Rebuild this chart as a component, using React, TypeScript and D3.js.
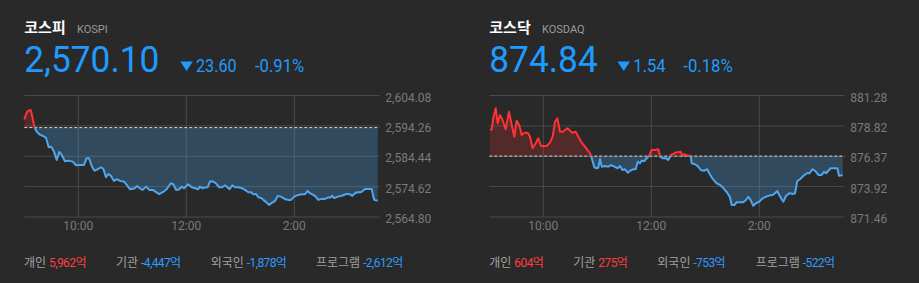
import React from 'react';
import * as d3 from 'd3';

// ---------- DATA ----------
// minutes since 09:00
const kospiMinutes = [0, 2.7, 4.4, 7.1, 8.9, 10.8, 11.9, 13.8, 16.7, 20.4, 24.1, 27.1, 30.0, 33.0, 36.0, 38.9, 41.6, 45.2, 48.9, 53.8, 57.4, 61.9, 66.3, 69.3, 71.9, 74.9, 77.8, 81.6, 85.2, 87.8, 90.8, 93.3, 96.3, 99.7, 102.7, 106.3, 110.8, 113.8, 117.4, 121.9, 125.6, 128.6, 131.6, 135.2, 138.9, 142.7, 146.0, 150.0, 153.8, 158.2, 162.7, 165.6, 168.6, 172.2, 174.9, 177.4, 182.2, 186.0, 189.7, 193.3, 195.2, 197.8, 200.8, 203.8, 206.3, 210.0, 212.7, 216.3, 220.0, 223.0, 226.0, 228.2, 231.1, 234.1, 237.8, 241.6, 245.2, 248.9, 251.9, 254.4, 257.4, 260.0, 263.8, 265.6, 269.3, 271.9, 275.6, 278.6, 281.6, 285.2, 289.7, 293.3, 296.3, 300.0, 304.4, 308.2, 311.9, 314.9, 317.4, 321.1, 323.8, 326.7, 330.4, 334.1, 337.1, 339.7, 342.2, 344.4, 348.2, 351.9, 354.4, 358.2, 361.9, 364.4, 367.4, 370.4, 374.1, 378.6, 382.2, 386.0, 387.8, 388.9, 391.6, 392.7];
const kospiValues = [2596.39, 2598.52, 2599.17, 2599.40, 2597.23, 2594.55, 2593.49, 2592.39, 2591.55, 2591.00, 2590.45, 2587.35, 2587.54, 2585.93, 2583.25, 2585.83, 2584.86, 2582.83, 2583.02, 2582.70, 2581.53, 2581.63, 2581.63, 2583.80, 2583.80, 2581.31, 2579.79, 2580.24, 2580.89, 2580.34, 2577.66, 2578.72, 2578.08, 2576.46, 2577.01, 2576.46, 2576.24, 2575.17, 2573.78, 2573.98, 2574.85, 2573.98, 2573.56, 2574.62, 2573.56, 2573.56, 2572.91, 2572.17, 2572.81, 2573.78, 2575.72, 2575.40, 2573.56, 2573.78, 2574.62, 2574.11, 2575.40, 2574.43, 2574.11, 2573.78, 2574.62, 2574.11, 2574.30, 2574.43, 2576.24, 2576.24, 2575.72, 2574.43, 2574.43, 2575.07, 2574.30, 2573.78, 2575.07, 2574.43, 2574.43, 2574.11, 2573.56, 2572.81, 2572.81, 2572.17, 2572.27, 2571.20, 2570.88, 2570.33, 2569.45, 2568.71, 2569.45, 2570.00, 2571.62, 2571.39, 2570.55, 2570.33, 2570.33, 2571.39, 2571.94, 2572.17, 2572.17, 2573.23, 2572.49, 2571.94, 2571.39, 2570.33, 2570.65, 2570.65, 2571.07, 2571.07, 2571.62, 2570.88, 2571.39, 2571.62, 2571.84, 2572.26, 2572.17, 2571.62, 2572.49, 2572.81, 2572.81, 2573.88, 2573.88, 2573.88, 2571.39, 2570.33, 2570.10, 2570.10];
const kospiTicks = [2564.80, 2574.62, 2584.44, 2594.26, 2604.08];
const kospiTickLabels = ['2,564.80', '2,574.62', '2,584.44', '2,594.26', '2,604.08'];
const kospiPrevClose = 2593.70;

const kosdaqMinutes = [0.8, 2.7, 4.4, 7.1, 9.3, 11.9, 14.4, 18.2, 21.9, 24.9, 27.8, 30.4, 33.3, 36.0, 38.9, 42.7, 45.2, 48.2, 51.6, 54.4, 57.4, 60.0, 63.8, 67.4, 70.4, 73.0, 75.6, 78.6, 81.6, 84.1, 87.1, 89.7, 92.2, 96.0, 98.9, 102.7, 106.3, 110.0, 113.0, 114.4, 116.7, 119.3, 121.1, 123.0, 124.9, 128.6, 132.2, 135.2, 138.9, 142.7, 145.2, 147.8, 150.8, 153.8, 156.7, 160.0, 162.7, 164.9, 167.4, 169.3, 172.2, 174.9, 177.4, 180.4, 184.1, 187.8, 190.0, 193.0, 196.3, 198.9, 201.6, 204.4, 207.4, 210.0, 212.7, 214.4, 216.3, 218.6, 221.1, 223.8, 224.9, 228.6, 232.2, 234.9, 238.6, 242.2, 244.4, 247.1, 250.0, 252.7, 256.3, 259.3, 261.9, 264.4, 267.4, 269.3, 272.2, 274.9, 278.6, 282.2, 285.2, 287.8, 290.4, 293.3, 296.3, 300.0, 303.8, 307.4, 311.9, 314.9, 317.4, 320.0, 322.2, 324.9, 326.7, 329.7, 333.3, 337.8, 339.7, 342.2, 345.2, 348.9, 352.7, 355.6, 359.3, 361.9, 365.6, 369.3, 371.9, 374.1, 376.7, 379.3, 382.2, 386.7, 388.6, 391.6, 392.7];
const kosdaqValues = [878.49, 878.55, 879.44, 880.25, 879.03, 879.70, 879.36, 878.55, 879.97, 878.90, 877.95, 879.24, 878.90, 878.09, 878.27, 878.27, 877.95, 877.01, 877.42, 877.82, 877.20, 877.20, 877.20, 877.47, 877.95, 879.16, 879.44, 878.35, 878.35, 878.49, 878.63, 878.44, 878.27, 878.35, 877.95, 877.47, 877.14, 876.79, 876.47, 876.07, 875.48, 875.40, 875.44, 876.15, 875.53, 875.58, 875.53, 875.66, 875.53, 875.40, 875.58, 875.26, 875.32, 875.04, 875.20, 875.32, 875.32, 875.93, 875.80, 876.01, 875.99, 876.20, 876.39, 876.88, 876.88, 876.93, 876.33, 876.20, 876.20, 876.07, 876.47, 876.55, 876.69, 876.69, 876.74, 876.39, 876.53, 876.47, 876.41, 876.41, 875.80, 875.72, 875.53, 875.26, 875.20, 875.32, 874.99, 874.67, 874.39, 874.18, 874.05, 873.86, 873.64, 873.42, 873.05, 872.43, 872.43, 872.65, 872.65, 872.65, 872.83, 873.10, 872.83, 872.37, 872.57, 872.70, 872.97, 873.10, 873.21, 873.24, 873.38, 873.56, 873.24, 872.89, 872.70, 873.16, 873.38, 873.32, 873.38, 874.37, 874.51, 874.77, 874.99, 874.99, 875.32, 875.20, 874.86, 874.86, 875.12, 874.99, 875.20, 875.40, 875.40, 875.40, 874.80, 874.84, 874.84];
const kosdaqTicks = [871.46, 873.92, 876.37, 878.82, 881.28];
const kosdaqTickLabels = ['871.46', '873.92', '876.37', '878.82', '881.28'];
const kosdaqPrevClose = 876.38;

const timeTicks = [60, 180, 300];
const timeTickLabels = ['10:00', '12:00', '2:00'];

const investorLabels = ['개인', '기관', '외국인', '프로그램'];
const kospiFlows = ['5,962억', '-4,447억', '-1,878억', '-2,612억'];
const kosdaqFlows = ['604억', '275억', '-753억', '-522억'];

// ---------- STYLE ----------
const BG = '#292929';
const GRID = '#4a4a4a';
const UP = '#ff3333';
const DOWN = '#4ea6f0';
const BLUE_TEXT = '#1f9bff';
const FONT = "Roboto, 'Noto Sans CJK KR', sans-serif";

interface PanelProps {
  id: string;
  x0: number;
  title: string;
  code: string;
  price: string;
  change: string;
  pct: string;
  minutes: number[];
  values: number[];
  ticks: number[];
  tickLabels: string[];
  prevClose: number;
  flows: string[];
  hdr: { priceLen: number; triX: number; chgX: number; chgLen: number; pctX: number; pctLen: number };
  flowX: number[];
}

function Panel(p: PanelProps) {
  const top = 95.5;
  const bottom = 217;
  const w = 353.7;
  const x = d3.scaleLinear().domain([0, 393]).range([p.x0, p.x0 + w]);
  const y = d3.scaleLinear().domain([p.ticks[0], p.ticks[p.ticks.length - 1]]).range([bottom, top]);
  const data = p.minutes.map((m, i) => ({ m, v: p.values[i] }));
  const yBase = y(p.prevClose);
  const line = d3.line<{ m: number; v: number }>().x(d => x(d.m)).y(d => y(d.v));
  const area = d3.area<{ m: number; v: number }>().x(d => x(d.m)).y0(yBase).y1(d => y(d.v));
  const gridRight = p.x0 + w + 1.5;
  const t = p.hdr;
  return (
    <g>
      <defs>
        <clipPath id={p.id + '-up'}>
          <rect x={p.x0 - 5} y={0} width={w + 10} height={yBase} />
        </clipPath>
        <clipPath id={p.id + '-dn'}>
          <rect x={p.x0 - 5} y={yBase} width={w + 10} height={300 - yBase} />
        </clipPath>
      </defs>
      {/* header */}
      <text x={p.x0} y={33} fill="#ffffff" fontSize={15} fontWeight={700} fontFamily={FONT}>{p.title}</text>
      <text x={p.x0 + 52.7} y={33} fill="#9a9a9a" fontSize={11} fontFamily={FONT}>{p.code}</text>
      <text x={p.x0} y={72} fill={BLUE_TEXT} fontSize={36} fontFamily={FONT} textLength={t.priceLen} lengthAdjust="spacingAndGlyphs">{p.price}</text>
      <path d={`M${t.triX},61.5 L${t.triX + 12.5},61.5 L${t.triX + 6.25},71 Z`} fill={BLUE_TEXT} />
      <text x={t.chgX} y={72.3} fill={BLUE_TEXT} fontSize={19} fontFamily={FONT} textLength={t.chgLen} lengthAdjust="spacingAndGlyphs">{p.change}</text>
      <text x={t.pctX} y={72.3} fill={BLUE_TEXT} fontSize={19} fontFamily={FONT} textLength={t.pctLen} lengthAdjust="spacingAndGlyphs">{p.pct}</text>

      {/* grid */}
      {p.ticks.map((v, i) => (
        <line key={'h' + i} x1={p.x0} x2={gridRight} y1={y(v)} y2={y(v)} stroke={GRID} strokeWidth={1} />
      ))}
      {timeTicks.map((m, i) => (
        <line key={'v' + i} x1={x(m)} x2={x(m)} y1={top} y2={bottom} stroke={GRID} strokeWidth={1} />
      ))}

      {/* fills */}
      <path d={area(data) || ''} fill={UP} fillOpacity={0.2} clipPath={`url(#${p.id}-up)`} />
      <path d={area(data) || ''} fill={DOWN} fillOpacity={0.27} clipPath={`url(#${p.id}-dn)`} />

      {/* baseline */}
      <line x1={p.x0} x2={gridRight} y1={yBase} y2={yBase} stroke="#d8d8d8" strokeWidth={1} strokeDasharray="3,2" />

      {/* lines */}
      <path d={line(data) || ''} fill="none" stroke={UP} strokeWidth={2} strokeLinejoin="round" clipPath={`url(#${p.id}-up)`} />
      <path d={line(data) || ''} fill="none" stroke={DOWN} strokeWidth={2} strokeLinejoin="round" clipPath={`url(#${p.id}-dn)`} />

      {/* y labels */}
      {p.ticks.map((v, i) => (
        <text key={'yl' + i} x={p.x0 + 361} y={y(v) + 3} dominantBaseline="middle" fill="#7a7a7a" fontSize={12} fontFamily={FONT}>{p.tickLabels[i]}</text>
      ))}
      {/* x labels */}
      {timeTicks.map((m, i) => (
        <text key={'xl' + i} x={x(m)} y={230} textAnchor="middle" fill="#7a7a7a" fontSize={12} fontFamily={FONT}>{timeTickLabels[i]}</text>
      ))}

      {/* investor flows */}
      {investorLabels.map((lab, i) => (
        <text key={'f' + i} x={p.flowX[i]} y={266.5} fontSize={12} fontFamily={FONT} fill="#a0a0a0">
          {lab + ' '}
          <tspan fill={p.flows[i].startsWith('-') ? '#2f9bff' : '#ff3f3f'} letterSpacing={-0.6}>{p.flows[i]}</tspan>
        </text>
      ))}
    </g>
  );
}

export default function App() {
  return (
    <svg width={919} height={283} style={{ position: 'absolute', left: 0, top: 0, display: 'block' }}>
      <rect x={0} y={0} width={919} height={283} fill={BG} />
      <Panel
        id="kospi" x0={24.3} title="코스피" code="KOSPI" price="2,570.10" change="23.60" pct="-0.91%"
        minutes={kospiMinutes} values={kospiValues} ticks={kospiTicks} tickLabels={kospiTickLabels}
        prevClose={kospiPrevClose} flows={kospiFlows}
        hdr={{ priceLen: 135, triX: 180.3, chgX: 196, chgLen: 40.7, pctX: 255, pctLen: 49.3 }}
        flowX={[24, 116, 210.7, 316]}
      />
      <Panel
        id="kosdaq" x0={489.3} title="코스닥" code="KOSDAQ" price="874.84" change="1.54" pct="-0.18%"
        minutes={kosdaqMinutes} values={kosdaqValues} ticks={kosdaqTicks} tickLabels={kosdaqTickLabels}
        prevClose={kosdaqPrevClose} flows={kosdaqFlows}
        hdr={{ priceLen: 108.4, triX: 617.5, chgX: 633.3, chgLen: 32.4, pctX: 683.3, pctLen: 49.4 }}
        flowX={[489.3, 573.3, 657.3, 755.7]}
      />
    </svg>
  );
}
